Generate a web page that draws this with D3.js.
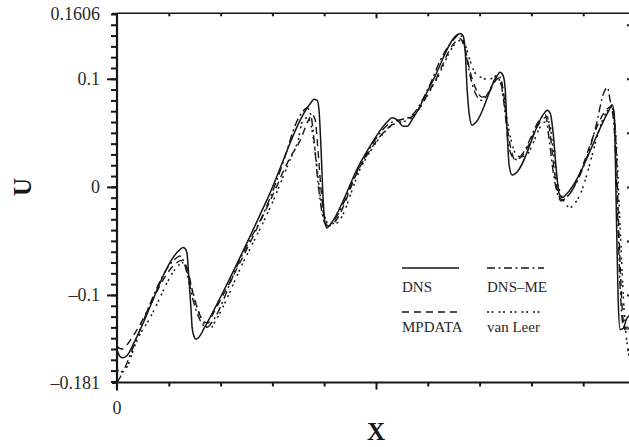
<!DOCTYPE html>
<html>
<head>
<meta charset="utf-8">
<script src="https://cdn.jsdelivr.net/npm/d3@7"></script>
<style>
  body { margin: 0; background: #fff; }
  svg { display: block; font-family: "Liberation Serif", "Times New Roman", serif; }
</style>
</head>
<body>
<script>
// ======================================================================
// DATA  (x, U)
// ======================================================================
const dns = [
  [0, -0.151], [0.012, -0.157], [0.023, -0.158], [0.039, -0.156], [0.070, -0.142],
  [0.243, -0.058], [0.255, -0.056], [0.263, -0.057], [0.270, -0.061], [0.278, -0.086],
  [0.286, -0.114], [0.290, -0.130], [0.297, -0.138], [0.305, -0.141], [0.317, -0.139],
  [0.336, -0.131], [0.579, -0.012], [0.746, 0.077], [0.761, 0.081], [0.773, 0.080],
  [0.780, 0.071], [0.788, 0.034], [0.796, -0.012], [0.803, -0.033], [0.811, -0.038],
  [0.823, -0.035], [0.939, 0.022], [1.043, 0.060], [1.062, 0.064], [1.082, 0.062],
  [1.105, 0.056], [1.120, 0.056], [1.139, 0.062], [1.221, 0.099], [1.309, 0.140],
  [1.325, 0.142], [1.336, 0.140], [1.344, 0.127], [1.352, 0.090], [1.360, 0.067],
  [1.371, 0.057], [1.387, 0.060], [1.468, 0.103], [1.479, 0.106], [1.491, 0.103],
  [1.499, 0.090], [1.506, 0.053], [1.514, 0.020], [1.526, 0.011], [1.541, 0.013],
  [1.649, 0.068], [1.661, 0.071], [1.673, 0.068], [1.684, 0.050], [1.696, 0.016],
  [1.707, -0.006], [1.719, -0.010], [1.734, -0.007], [1.900, 0.071], [1.912, 0.076],
  [1.920, 0.066], [1.927, -0.012], [1.935, -0.105], [1.943, -0.132], [1.954, -0.131],
  [1.970, -0.121], [1.989, -0.118],
];

const mpdata = [
  [0, -0.148], [0.019, -0.150], [0.039, -0.146], [0.070, -0.135], [0.232, -0.070],
  [0.247, -0.068], [0.263, -0.071], [0.278, -0.082], [0.297, -0.102], [0.317, -0.117],
  [0.336, -0.125], [0.352, -0.126], [0.363, -0.121], [0.475, -0.070], [0.591, -0.013],
  [0.668, 0.027], [0.707, 0.043], [0.738, 0.061], [0.753, 0.067], [0.765, 0.062],
  [0.776, 0.034], [0.788, -0.003], [0.800, -0.028], [0.815, -0.036], [0.834, -0.034],
  [0.939, 0.019], [1.054, 0.056], [1.093, 0.062], [1.132, 0.064], [1.221, 0.095],
  [1.306, 0.134], [1.325, 0.137], [1.344, 0.127], [1.364, 0.106], [1.387, 0.090],
  [1.410, 0.083], [1.429, 0.085], [1.468, 0.100], [1.479, 0.101], [1.491, 0.090],
  [1.506, 0.057], [1.522, 0.034], [1.537, 0.025], [1.557, 0.027], [1.645, 0.063],
  [1.661, 0.065], [1.673, 0.048], [1.688, 0.016], [1.703, -0.006], [1.719, -0.012],
  [1.738, -0.009], [1.897, 0.073], [1.912, 0.075], [1.924, 0.053], [1.939, -0.049],
  [1.951, -0.114], [1.962, -0.132], [1.978, -0.125],
];

const dnsMe = [
  [0, -0.181], [0.015, -0.175], [0.035, -0.165], [0.058, -0.151], [0.228, -0.066],
  [0.243, -0.064], [0.259, -0.070], [0.274, -0.084], [0.294, -0.105], [0.313, -0.119],
  [0.332, -0.128], [0.348, -0.130], [0.367, -0.125], [0.475, -0.067], [0.583, -0.015],
  [0.649, 0.028], [0.688, 0.057], [0.718, 0.070], [0.734, 0.073], [0.749, 0.066],
  [0.761, 0.043], [0.773, 0.011], [0.784, -0.012], [0.796, -0.029], [0.811, -0.036],
  [0.834, -0.032], [0.939, 0.020], [1.054, 0.059], [1.132, 0.065], [1.209, 0.095],
  [1.248, 0.117], [1.306, 0.138], [1.321, 0.141], [1.336, 0.136], [1.352, 0.117],
  [1.367, 0.099], [1.387, 0.085], [1.410, 0.080], [1.433, 0.087], [1.464, 0.101],
  [1.476, 0.103], [1.487, 0.090], [1.499, 0.067], [1.510, 0.042], [1.526, 0.028],
  [1.545, 0.025], [1.564, 0.030], [1.638, 0.064], [1.653, 0.067], [1.669, 0.043],
  [1.684, 0.014], [1.700, -0.006], [1.715, -0.013], [1.734, -0.010], [1.846, 0.053],
  [1.881, 0.088], [1.893, 0.092], [1.904, 0.080], [1.920, 0.053], [1.931, -0.012],
  [1.943, -0.095], [1.954, -0.128], [1.970, -0.132], [1.989, -0.123],
];

const vanLeer = [
  [0, -0.169], [0.015, -0.171], [0.042, -0.165], [0.070, -0.146], [0.128, -0.121],
  [0.236, -0.073], [0.251, -0.070], [0.267, -0.075], [0.290, -0.095], [0.313, -0.114],
  [0.340, -0.128], [0.359, -0.131], [0.382, -0.123], [0.483, -0.072], [0.599, -0.015],
  [0.668, 0.025], [0.699, 0.043], [0.718, 0.062], [0.734, 0.064], [0.749, 0.057],
  [0.769, 0.025], [0.784, -0.007], [0.800, -0.026], [0.819, -0.034], [0.842, -0.034],
  [0.946, 0.020], [1.062, 0.057], [1.132, 0.063], [1.228, 0.097], [1.313, 0.134],
  [1.333, 0.136], [1.348, 0.129], [1.364, 0.116], [1.387, 0.104], [1.410, 0.101],
  [1.433, 0.099], [1.468, 0.103], [1.479, 0.097], [1.495, 0.080], [1.510, 0.057],
  [1.530, 0.036], [1.549, 0.028], [1.572, 0.028], [1.653, 0.060], [1.669, 0.060],
  [1.684, 0.034], [1.700, 0.006], [1.723, -0.012], [1.750, -0.019], [1.777, -0.012],
  [1.897, 0.071], [1.912, 0.073], [1.927, 0.043], [1.943, -0.040], [1.958, -0.114],
  [1.970, -0.146], [1.981, -0.160],
];

const seriesNames = ["DNS", "DNS\u2013ME", "MPDATA", "van Leer"];
const yLabelValues = [0.1606, 0.1, 0, -0.1, -0.181];
const yLabelTexts = ["0.1606", "0.1", "0", "\u20130.1", "\u20130.181"];
const xLabelValues = [0];
const xLabelTexts = ["0"];

// ======================================================================
// CHART
// ======================================================================
const width = 629;
const height = 447;
const margin = { top: 13.3, right: -6, bottom: 64.5, left: 117 };

const x = d3.scaleLinear().domain([0, 2]).range([margin.left, width - margin.right]);
const y = d3.scaleLinear().domain([-0.181, 0.1606]).range([height - margin.bottom, margin.top]);

const svg = d3.select("body").append("svg")
  .attr("width", width)
  .attr("height", height);

svg.append("clipPath").attr("id", "plot")
  .append("rect")
  .attr("x", x(0)).attr("y", y(0.1606))
  .attr("width", x(2) - x(0)).attr("height", y(-0.181) - y(0.1606));

const ink = "#161616";

// curves
const styles = [
  { data: dns, dash: null, w: 1.5 },
  { data: dnsMe, dash: "8,3.5,2,3.5", w: 1.4 },
  { data: mpdata, dash: "7,5", w: 1.4 },
  { data: vanLeer, dash: "2,2.5,2,5", w: 1.5 },
];

const line = d3.line()
  .x((d) => x(d[0]))
  .y((d) => y(d[1]))
  .curve(d3.curveMonotoneX);

svg.append("g").attr("clip-path", "url(#plot)")
  .selectAll("path")
  .data(styles)
  .join("path")
  .attr("d", (s) => line(s.data))
  .attr("fill", "none")
  .attr("stroke", ink)
  .attr("stroke-width", (s) => s.w)
  .attr("stroke-dasharray", (s) => s.dash);

// frame: left and bottom heavy, top lighter
const frame = svg.append("g").attr("stroke", ink).attr("fill", "none");
frame.append("line")
  .attr("x1", x(0)).attr("x2", x(0))
  .attr("y1", y(0.1606)).attr("y2", y(-0.181) + 8)
  .attr("stroke-width", 2.2);
frame.append("line")
  .attr("x1", x(0) - 1).attr("x2", x(2))
  .attr("y1", y(-0.181)).attr("y2", y(-0.181))
  .attr("stroke-width", 2.2);
frame.append("line")
  .attr("x1", x(0)).attr("x2", x(2))
  .attr("y1", y(0.1606)).attr("y2", y(0.1606))
  .attr("stroke-width", 1.4);
frame.append("line")
  .attr("x1", x(2)).attr("x2", x(2))
  .attr("y1", y(0.1606)).attr("y2", y(-0.181))
  .attr("stroke-width", 1.4);

// left ticks: minor every 0.01, major every 0.1
const yMinor = d3.range(-18, 17).map((k) => k / 100);
svg.append("g")
  .attr("transform", `translate(${x(0)},0)`)
  .call(d3.axisLeft(y).tickValues(yMinor).tickSize(6).tickFormat(""))
  .call((g) => g.select(".domain").remove())
  .call((g) => g.selectAll("line").attr("stroke", ink).attr("stroke-width", 2));
svg.append("g")
  .attr("transform", `translate(${x(0)},0)`)
  .call(d3.axisLeft(y).tickValues([-0.1, 0, 0.1]).tickSize(10).tickFormat(""))
  .call((g) => g.select(".domain").remove())
  .call((g) => g.selectAll("line").attr("stroke", ink).attr("stroke-width", 2));
svg.append("g")
  .attr("transform", `translate(${x(0)},0)`)
  .call(d3.axisLeft(y).tickValues([0.1606, -0.181]).tickSize(5).tickFormat(""))
  .call((g) => g.select(".domain").remove())
  .call((g) => g.selectAll("line").attr("stroke", ink).attr("stroke-width", 2));

// right ticks every 0.05, pointing in
svg.append("g")
  .attr("transform", `translate(${x(2)},0)`)
  .call(d3.axisLeft(y).tickValues(d3.range(-3, 4).map((k) => k * 0.05)).tickSize(8).tickFormat(""))
  .call((g) => g.select(".domain").remove())
  .call((g) => g.selectAll("line").attr("stroke", ink).attr("stroke-width", 2));

// bottom ticks every 0.2, major at 0 and 1
const xMinor = d3.range(1, 10).map((k) => k * 0.2).filter((v) => Math.abs(v - 1) > 1e-9);
svg.append("g")
  .attr("transform", `translate(0,${y(-0.181)})`)
  .call(d3.axisBottom(x).tickValues(xMinor).tickSize(4).tickFormat(""))
  .call((g) => g.select(".domain").remove())
  .call((g) => g.selectAll("line").attr("stroke", ink).attr("stroke-width", 2));
svg.append("g")
  .attr("transform", `translate(0,${y(-0.181)})`)
  .call(d3.axisBottom(x).tickValues([1]).tickSize(7).tickFormat(""))
  .call((g) => g.select(".domain").remove())
  .call((g) => g.selectAll("line").attr("stroke", ink).attr("stroke-width", 2));

// top ticks, pointing down
svg.append("g")
  .attr("transform", `translate(0,${y(0.1606)})`)
  .call(d3.axisTop(x).tickValues(xMinor).tickSize(-3).tickFormat(""))
  .call((g) => g.select(".domain").remove())
  .call((g) => g.selectAll("line").attr("stroke", ink).attr("stroke-width", 2));
svg.append("g")
  .attr("transform", `translate(0,${y(0.1606)})`)
  .call(d3.axisTop(x).tickValues([1]).tickSize(-5).tickFormat(""))
  .call((g) => g.select(".domain").remove())
  .call((g) => g.selectAll("line").attr("stroke", ink).attr("stroke-width", 2));

// tick labels
svg.append("g")
  .selectAll("text")
  .data(yLabelValues)
  .join("text")
  .attr("x", x(0) - 17)
  .attr("y", (d) => y(d))
  .attr("dy", "0.35em")
  .attr("text-anchor", "end")
  .attr("font-size", 18)
  .attr("fill", "#2a2a2a")
  .text((d, i) => yLabelTexts[i]);

svg.append("g")
  .selectAll("text")
  .data(xLabelValues)
  .join("text")
  .attr("x", (d) => x(d))
  .attr("y", y(-0.181) + 31)
  .attr("text-anchor", "middle")
  .attr("font-size", 18)
  .attr("fill", "#2a2a2a")
  .text((d, i) => xLabelTexts[i]);

// axis titles
svg.append("text")
  .attr("x", x(1))
  .attr("y", 440)
  .attr("text-anchor", "middle")
  .attr("font-size", 25)
  .attr("font-weight", "bold")
  .attr("fill", ink)
  .text("X");

svg.append("text")
  .attr("transform", `translate(31,${y(0)}) rotate(-90)`)
  .attr("text-anchor", "middle")
  .attr("font-size", 25)
  .attr("font-weight", "bold")
  .attr("fill", ink)
  .text("U");

// legend, 2 x 2
const legendPos = [
  { lx: 402, ly: 268 },
  { lx: 487, ly: 268 },
  { lx: 402, ly: 312 },
  { lx: 487, ly: 312 },
];
const legend = svg.append("g")
  .selectAll("g")
  .data(seriesNames)
  .join("g")
  .attr("transform", (d, i) => `translate(${legendPos[i].lx},${legendPos[i].ly})`);

legend.append("line")
  .attr("x1", 0).attr("x2", 57)
  .attr("stroke", ink)
  .attr("stroke-width", (d, i) => styles[i].w)
  .attr("stroke-dasharray", (d, i) => styles[i].dash);

legend.append("text")
  .attr("x", 0)
  .attr("y", (d, i) => (i < 2 ? 24 : 20))
  .attr("font-size", 15)
  .attr("fill", "#2a2a2a")
  .text((d) => d);
</script>
</body>
</html>
